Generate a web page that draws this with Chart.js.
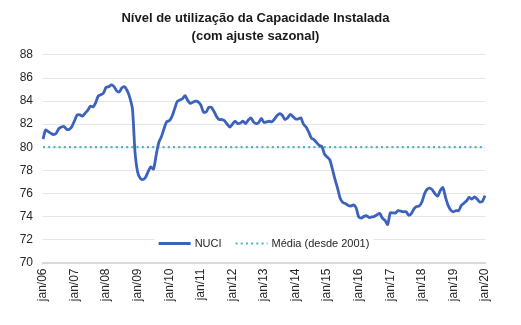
<!DOCTYPE html>
<html lang="pt-BR">
<head>
<meta charset="utf-8">
<title>NUCI</title>
<script src="https://cdn.jsdelivr.net/npm/chart.js@4/dist/chart.umd.min.js"></script>
<style>
  html, body { margin: 0; padding: 0; background: #fff; }
  #wrap { width: 521px; height: 325px; }
</style>
</head>
<body>
<div id="wrap"><canvas id="grafico" width="521" height="325"></canvas></div>
<script>
// Eixo x: meses de jan/06 a jan/20
const meses = ['jan', 'fev', 'mar', 'abr', 'mai', 'jun', 'jul', 'ago', 'set', 'out', 'nov', 'dez'];
const anos = ['06', '07', '08', '09', '10', '11', '12', '13', '14', '15', '16', '17', '18', '19'];
const ultimoMes = 'jan/20';

// NUCI (com ajuste sazonal), um ano por linha
const nuci = [
  80.7, 81.5, 81.35, 81.2, 81.1, 81.2, 81.6, 81.75, 81.8, 81.55, 81.55, 81.8,      // 2006
  82.3, 82.8, 82.8, 82.7, 82.95, 83.2, 83.55, 83.5, 83.85, 84.45, 84.55, 84.7,     // 2007
  85.2, 85.25, 85.4, 85.25, 84.9, 84.8, 85.15, 85.25, 84.9, 84.3, 83.3, 79.5,      // 2008
  77.8, 77.3, 77.2, 77.4, 77.9, 78.3, 78.1, 79.3, 80.4, 80.9, 81.6, 82.2,          // 2009
  82.3, 82.65, 83.3, 83.95, 84.1, 84.2, 84.47, 84.06, 83.8, 83.9, 84.0, 83.94,     // 2010
  83.65, 83.05, 83.05, 83.45, 83.45, 83.1, 82.65, 82.4, 82.4, 82.3, 82.0, 81.75,   // 2011
  82.0, 82.25, 82.05, 82.1, 82.25, 82.05, 82.35, 82.55, 82.2, 82.05, 82.15, 82.5,  // 2012
  82.15, 82.2, 82.25, 82.2, 82.45, 82.75, 82.9, 82.75, 82.4, 82.55, 82.85, 82.65,  // 2013
  82.45, 82.45, 82.55, 82.0, 81.75, 81.3, 80.8, 80.65, 80.4, 80.15, 80.05, 79.4,   // 2014
  79.15, 78.9, 78.1, 77.2, 76.4, 75.55, 75.2, 75.1, 74.95, 74.9, 75.0, 74.75,      // 2015
  73.95, 73.85, 74.0, 74.05, 73.9, 73.95, 74.0, 74.15, 74.25, 73.85, 73.65, 73.3,  // 2016
  74.3, 74.3, 74.3, 74.5, 74.45, 74.4, 74.4, 74.1, 74.25, 74.65, 74.85, 74.9,      // 2017
  75.25, 75.95, 76.35, 76.45, 76.3, 75.95, 75.75, 76.25, 76.5, 75.65, 74.95, 74.55,// 2018
  74.4, 74.5, 74.5, 74.95, 75.15, 75.35, 75.65, 75.5, 75.7, 75.5, 75.25, 75.3,     // 2019
  75.8                                                                            // jan/20
];

// Média desde 2001
const media = 80.0;

const eixoYMin = 70;
const eixoYMax = 88;
const eixoYPasso = 2;

// monta os rótulos mensais
const rotulos = [];
anos.forEach(a => meses.forEach(m => rotulos.push(m + '/' + a)));
rotulos.push(ultimoMes);

const fonte = '"Liberation Sans", Arial, sans-serif';

// Legenda desenhada dentro da área do gráfico, logo acima do eixo
const legendaInterna = {
  id: 'legendaInterna',
  afterDatasetsDraw(chart) {
    const { ctx, chartArea } = chart;
    ctx.save();
    ctx.font = '11px ' + fonte;
    const amostra = 32, gapTexto = 4, gapItens = 14;
    const itens = chart.data.datasets.map(ds => ({
      ds: ds,
      w: amostra + gapTexto + ctx.measureText(ds.label).width
    }));
    const total = itens.reduce((s, it) => s + it.w, 0) + gapItens * (itens.length - 1);
    let x = (chartArea.left + chartArea.right) / 2 - total / 2;
    const y = chartArea.bottom - 19;

    ctx.fillStyle = '#ffffff';
    ctx.fillRect(x - 4, y - 7, total + 8, 14);

    itens.forEach(it => {
      const ds = it.ds;
      ctx.strokeStyle = ds.borderColor;
      ctx.lineWidth = ds.borderWidth;
      ctx.setLineDash(ds.borderDash || []);
      ctx.lineCap = ds.borderCapStyle || 'butt';
      ctx.beginPath();
      ctx.moveTo(x, y);
      ctx.lineTo(x + amostra, y);
      ctx.stroke();
      ctx.setLineDash([]);
      ctx.fillStyle = '#262626';
      ctx.textBaseline = 'middle';
      ctx.textAlign = 'left';
      ctx.fillText(ds.label, x + amostra + gapTexto, y + 0.5);
      x += it.w + gapItens;
    });
    ctx.restore();
  }
};

const ctx = document.getElementById('grafico').getContext('2d');
new Chart(ctx, {
  type: 'line',
  data: {
    labels: rotulos,
    datasets: [
      {
        label: 'NUCI',
        data: nuci,
        borderColor: '#3c62bd',
        borderWidth: 2.8,
        pointRadius: 0,
        tension: 0.25,
        fill: false
      },
      {
        label: 'Média (desde 2001)',
        data: [{ x: rotulos[0], y: media }, { x: rotulos[rotulos.length - 1], y: media }],
        borderColor: '#4fb0cf',
        borderWidth: 2.2,
        borderDash: [2, 3.2],
        pointRadius: 0,
        fill: false
      }
    ]
  },
  options: {
    responsive: false,
    animation: false,
    events: [],
    layout: { padding: { left: 0, right: 10, top: 0, bottom: 0 } },
    plugins: {
      legend: { display: false },
      tooltip: { enabled: false },
      title: {
        display: true,
        text: ['Nível de utilização da Capacidade Instalada', '(com ajuste sazonal)'],
        color: '#1a1a1a',
        font: { family: fonte, size: 13, weight: 'bold', lineHeight: 1.36 },
        padding: { top: 9.5, bottom: 10.1 }
      }
    },
    scales: {
      x: {
        type: 'category',
        offset: false,
        grid: { display: false, drawTicks: false },
        border: { display: true, color: '#d9d9d9', width: 2 },
        ticks: {
          autoSkip: false,
          minRotation: 90,
          maxRotation: 90,
          padding: 6,
          color: '#262626',
          font: { family: fonte, size: 12 },
          callback: function (valor, indice) {
            return indice % 12 === 0 ? this.getLabelForValue(valor) : null;
          }
        },
        afterFit: function (escala) { escala.height = 62.5; }
      },
      y: {
        min: eixoYMin,
        max: eixoYMax,
        grid: { color: '#e6e6e6', lineWidth: 1, drawTicks: false },
        border: { display: false },
        ticks: {
          stepSize: eixoYPasso,
          padding: 10,
          color: '#262626',
          font: { family: fonte, size: 12 }
        },
        afterFit: function (escala) { escala.width = 43; }
      },
      // margem vazia à direita da área do gráfico
      direita: {
        position: 'right',
        display: true,
        grid: { display: false, drawTicks: false },
        border: { display: false },
        ticks: { display: false },
        afterFit: function (escala) { escala.width = 26; }
      }
    }
  },
  plugins: [legendaInterna]
});
</script>
</body>
</html>
